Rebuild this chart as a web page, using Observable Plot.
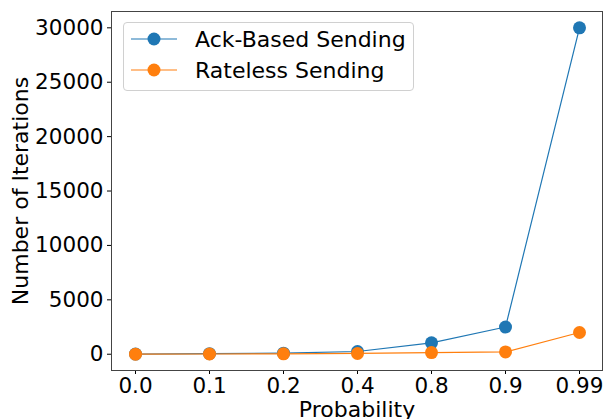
<!DOCTYPE html>
<html>
<head>
<meta charset="utf-8">
<script src="https://cdn.jsdelivr.net/npm/d3@7"></script>
<script src="https://cdn.jsdelivr.net/npm/@observablehq/plot@0.6"></script>
<style>
  html, body { margin: 0; padding: 0; background: #fff; }
  #wrap { position: relative; width: 607px; height: 419px; font-family: "DejaVu Sans", sans-serif; }
  #legend { position: absolute; left: 123px; top: 22px; width: 291px; height: 69px; box-sizing: border-box;
    border: 1px solid #d0d0d0; border-radius: 4px; background: rgba(255,255,255,0.8); }
  .row { position: absolute; left: 0; height: 30px; display: flex; align-items: center; }
  .row span { font-size: 22px; color: #000; margin-left: 18px; white-space: nowrap; }
</style>
</head>
<body>
<div id="wrap"><div id="legend"></div></div>
<script>
const probabilities = ["0.0", "0.1", "0.2", "0.4", "0.8", "0.9", "0.99"];
const ackBased = [10, 50, 100, 250, 1050, 2500, 30000];
const rateless = [5, 20, 40, 70, 150, 210, 2000];
const seriesNames = ["Ack-Based Sending", "Rateless Sending"];
const seriesColors = ["#1f77b4", "#ff7f0e"];
const yTicks = [0, 5000, 10000, 15000, 20000, 25000, 30000];

const rows = [];
[ackBased, rateless].forEach((vals, s) => {
  probabilities.forEach((p, i) => rows.push({p, v: vals[i], s: seriesNames[s]}));
});

const chart = Plot.plot({
  width: 607,
  height: 419,
  marginLeft: 111,
  marginRight: 5,
  marginTop: 11,
  marginBottom: 49,
  style: {fontFamily: "DejaVu Sans, sans-serif", fontSize: "21.5px", color: "#000", background: "#fff"},
  x: {type: "point", domain: probabilities, padding: 0.3},
  y: {domain: [-1495, 31500]},
  color: {domain: seriesNames, range: seriesColors},
  marks: [
    Plot.axisX({tickSize: 4, tickPadding: 3, label: null, fontSize: 21.5}),
    Plot.axisX({ticks: [], label: "Probability", labelAnchor: "center", labelArrow: "none", labelOffset: 46, fontSize: 22}),
    Plot.axisY({ticks: yTicks, tickFormat: d3.format("d"), tickSize: 4, tickPadding: 4, label: null, fontSize: 21.5}),
    Plot.axisY({ticks: [], label: "Number of Iterations", labelAnchor: "center", labelArrow: "none", labelOffset: 99, fontSize: 22}),
    Plot.line(rows, {x: "p", y: "v", z: "s", stroke: "s", strokeWidth: 1.2}),
    Plot.dot(rows, {x: "p", y: "v", fill: "s", r: 6.5}),
    Plot.frame({stroke: "#444", strokeWidth: 1})
  ]
});
document.getElementById("wrap").prepend(chart);
chart.style.position = "absolute";
chart.style.left = "0";
chart.style.top = "0";

const legend = document.getElementById("legend");
seriesNames.forEach((name, i) => {
  const row = document.createElement("div");
  row.className = "row";
  row.style.top = (1 + i * 31) + "px";
  row.innerHTML = `<svg width="46" height="30" style="margin-left:7px"><line x1="0" x2="46" y1="15" y2="15" stroke="${seriesColors[i]}" stroke-width="1.2"/><circle cx="23" cy="15" r="6.5" fill="${seriesColors[i]}"/></svg><span>${name}</span>`;
  legend.appendChild(row);
});
</script>
</body>
</html>
